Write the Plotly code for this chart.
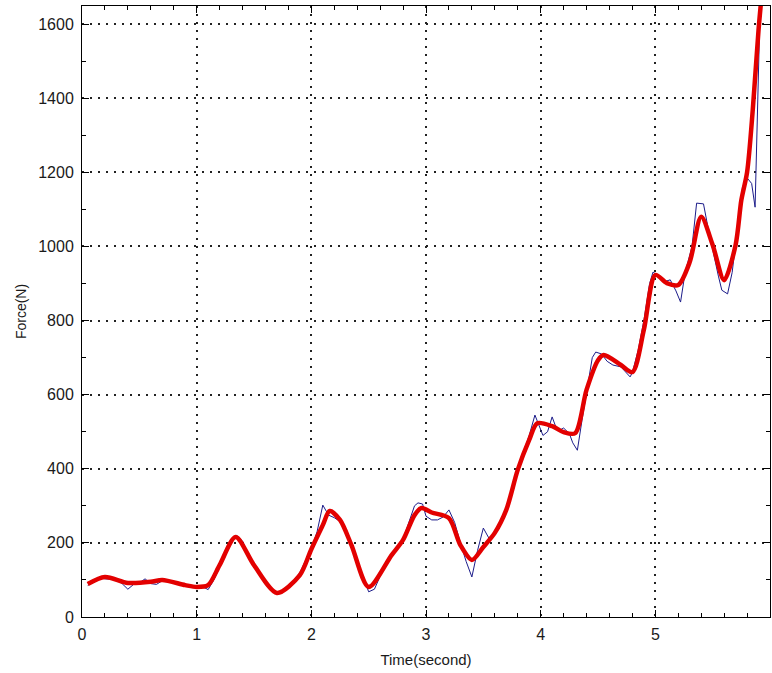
import plotly.graph_objects as go

# Raw measured force (blue)
raw_time = [0.05,0.1,0.15,0.2,0.25,0.3,0.35,0.4,0.45,0.5,0.55,0.6,0.65,0.7,0.75,0.8,0.85,0.9,0.95,1.0,
            1.05,1.1,1.15,1.2,1.25,1.3,1.35,1.4,1.45,1.5,1.6,1.7,1.8,1.9,2.0,2.05,2.1,2.15,2.2,2.25,
            2.3,2.4,2.5,2.55,2.6,2.7,2.8,2.9,2.93,2.97,3.0,3.05,3.1,3.15,3.2,3.25,3.3,3.35,3.4,3.45,
            3.5,3.55,3.6,3.65,3.7,3.8,3.9,3.95,3.98,4.02,4.06,4.1,4.13,4.17,4.2,4.25,4.28,4.32,4.36,4.4,
            4.45,4.48,4.53,4.58,4.63,4.7,4.78,4.8,4.85,4.9,4.95,4.98,5.03,5.08,5.13,5.18,5.22,5.26,5.32,5.36,
            5.42,5.46,5.5,5.55,5.58,5.63,5.67,5.72,5.76,5.8,5.84,5.87,5.89,5.91,5.93]
raw_force = [85,95,108,103,102,100,90,75,88,92,103,90,88,98,97,95,88,85,80,80,
             82,74,100,135,175,208,220,205,170,135,88,63,80,120,185,230,302,275,268,258,
             225,150,68,75,110,165,210,300,308,305,272,262,262,270,289,255,200,150,108,180,
             240,212,225,260,295,400,490,545,520,490,500,540,515,505,510,495,470,450,530,610,
             700,715,710,690,680,675,648,660,720,800,900,931,920,905,910,880,850,930,1000,1117,
             1115,1050,990,920,882,872,930,1050,1160,1185,1170,1106,1400,1600,1720]

# Smoothed force (red)
fit_time = [0.05,0.2,0.4,0.6,0.7,0.9,1.0,1.1,1.2,1.34,1.5,1.7,1.9,2.0,2.1,2.16,2.25,2.35,2.5,2.7,
            2.8,2.9,2.96,3.05,3.2,3.3,3.4,3.5,3.6,3.7,3.8,3.9,3.97,4.1,4.2,4.3,4.4,4.5,4.55,4.7,
            4.8,4.9,5.0,5.1,5.2,5.3,5.4,5.5,5.6,5.7,5.75,5.8,5.85,5.9,5.94]
fit_force = [89,108,92,95,100,86,81,86,140,216,140,65,113,183,248,286,262,194,81,167,
             208,275,294,282,267,194,154,189,227,289,397,478,523,515,499,496,613,693,707,680,
             661,775,923,901,896,958,1080,1004,909,1004,1125,1200,1370,1584,1720]

x_ticks = [0, 1, 2, 3, 4, 5, 6]
y_ticks = [0, 200, 400, 600, 800, 1000, 1200, 1400, 1600]

FONT = "Liberation Sans, Arial, sans-serif"
TXT = "#1a1a1a"

fig = go.Figure()
fig.add_trace(go.Scatter(x=raw_time, y=raw_force, mode="lines",
                         line=dict(color="#1c1c8a", width=1), name="measured",
                         cliponaxis=True))
fig.add_trace(go.Scatter(x=fit_time, y=fit_force, mode="lines",
                         line=dict(color="#e30000", width=4.5, shape="spline", smoothing=0.8),
                         name="smoothed", cliponaxis=True))

axis_common = dict(
    showline=True, linecolor="black", linewidth=1, mirror="ticks",
    ticks="inside", ticklen=7, tickcolor="black", tickwidth=1,
    showgrid=True, gridcolor="#222222", gridwidth=1.5, griddash="1.5px,6.5px",
    zeroline=False, tickfont=dict(family=FONT, size=16, color=TXT),
)

fig.update_xaxes(range=[0, 6], tickvals=x_ticks, ticktext=[str(v) for v in x_ticks],
                 minor=dict(ticks="inside", ticklen=4, dtick=0.2, tickcolor="black", showgrid=False),
                 title=dict(text="Time(second)", font=dict(family=FONT, size=15, color=TXT), standoff=12),
                 ticklabelstandoff=3,
                 **axis_common)
fig.update_yaxes(range=[0, 1649], tickvals=y_ticks, ticktext=[str(v) for v in y_ticks],
                 minor=dict(ticks="inside", ticklen=4, dtick=100, tickcolor="black", showgrid=False),
                 title=dict(text="Force(N)", font=dict(family=FONT, size=14, color=TXT), standoff=8),
                 ticklabelstandoff=4,
                 **axis_common)

fig.update_layout(
    width=772, height=673,
    margin=dict(l=82, r=2, t=6, b=56),
    paper_bgcolor="white", plot_bgcolor="white",
    showlegend=False,
)

fig.write_html("out.html", config={"displayModeBar": False},
               post_script="document.body.style.margin='0';")
